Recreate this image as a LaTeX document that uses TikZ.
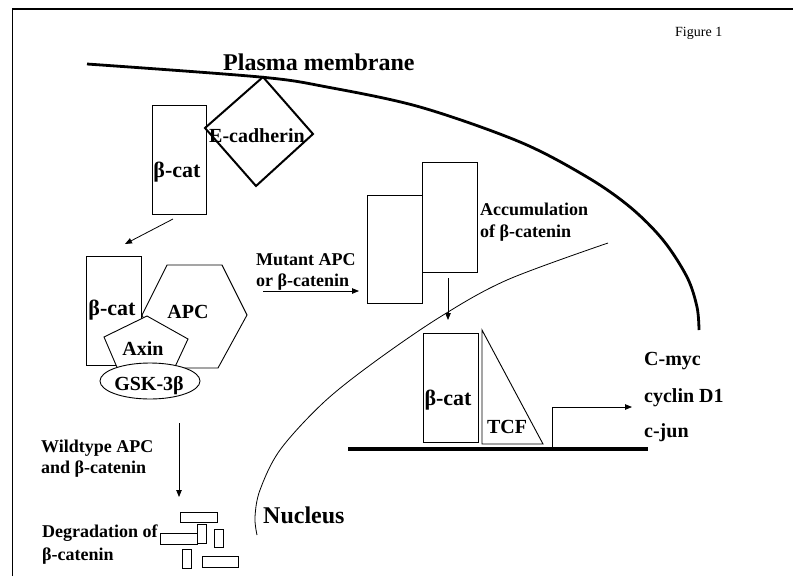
\documentclass[tikz,border=0pt]{standalone}
\usepackage{fontspec}
\setmainfont{Liberation Serif}
\usetikzlibrary{arrows.meta,shapes.geometric}
\begin{document}
\begin{tikzpicture}[x=1pt,y=-1pt,
  lab/.style={font=\bfseries\fontsize{#1}{#1}\selectfont, inner sep=0pt},
  lab/.default=20,
  rbox/.style={draw, line width=0.9pt, fill=white, inner sep=0pt},
  thinline/.style={line width=0.9pt},
  arr/.style={line width=0.8pt, -{Triangle[length=7pt,width=5.5pt]}},
  frag/.style={draw, line width=0.8pt, fill=white}
]
\useasboundingbox (0,0) rectangle (793,576);
% frame
\draw[line width=1.5pt] (12.5,576) -- (12.5,9) -- (793,9);
\node[font=\fontsize{14}{14}\selectfont, inner sep=0pt, anchor=base west] (fig) at (675,36.5) {Figure 1};

% plasma membrane
\draw[line width=2.8pt] plot[smooth, tension=0.55] coordinates {(87,64) (260,77) (327,87) (420,107) (520,142) (587,177) (630,207) (663,240) (687,277) (697,307) (699,330)};
\node[lab=24, anchor=base west] (pm) at (223,70) {Plasma membrane};

% nucleus
\draw[line width=0.8pt] plot[smooth, tension=0.55] coordinates {(608,243) (507,280) (440,317) (373,363) (323,403) (280,450) (260,490) (255,517) (257,535)};
\node[lab=24, anchor=base west] (nuc) at (263,523) {Nucleus};

% beta-cat at membrane + E-cadherin
\node[rbox, minimum width=54pt, minimum height=109pt] (cat1) at (179,159.5) {};
\node[lab=22, anchor=base] (cat1t) at (177,177) {β-cat};
\draw[line width=2pt, fill=white] (263,77) -- (313,134) -- (256,186) -- (205,128) -- cycle;
\node[lab=20, anchor=base] (ecad) at (257,142) {E-cadherin};

% arrow to complex
\coordinate (a1s) at (173,219);
\coordinate (a1e) at (125,244);
\draw[arr] (a1s) -- (a1e);

% destruction complex
\node[rbox, minimum width=55pt, minimum height=109pt] (cat2) at (113.5,310.5) {};
\draw[thinline, fill=white] (167,265) -- (222,265) -- (247,315) -- (218,368) -- (167,368) -- (142,315) -- cycle;
\draw[thinline, fill=white] (147,316) -- (188,339) -- (174,369) -- (119,372) -- (104,337) -- cycle;
\node[draw, thinline, fill=white, ellipse, minimum width=100pt, minimum height=36pt, inner sep=0pt] (gsk) at (150,381) {};
\node[lab=22, anchor=base] (cat2t) at (112,315) {β-cat};
\node[lab=20, anchor=base] (apc) at (188,318) {APC};
\node[lab=20, anchor=base] (axin) at (143,355) {Axin};
\node[lab=20, anchor=base] (gskt) at (149,390) {GSK-3β};

% wildtype path
\node[lab=18, anchor=base west] (wt1) at (41,452) {Wildtype APC};
\node[lab=18, anchor=base west] (wt2) at (41,473) {and β-catenin};
\coordinate (a2s) at (179,423);
\coordinate (a2e) at (179,497);
\draw[arr] (a2s) -- (a2e);
\node[lab=18, anchor=base west] (dg1) at (42,537) {Degradation of};
\node[lab=18, anchor=base west] (dg2) at (42,560) {β-catenin};
\draw[frag] (180,512) rectangle (217,522);
\draw[frag] (197,524) rectangle (206,543);
\draw[frag] (160,533) rectangle (197,544);
\draw[frag] (214,529) rectangle (223,547);
\draw[frag] (182,549) rectangle (191,568);
\draw[frag] (202,556) rectangle (238,567);

% mutant path
\node[lab=18, anchor=base west] (mu1) at (256,265) {Mutant APC};
\node[lab=18, anchor=base west] (mu2) at (256,286) {or β-catenin};
\coordinate (a3s) at (263,291);
\coordinate (a3e) at (359,291);
\draw[arr] (a3s) -- (a3e);
\node[rbox, minimum width=55pt, minimum height=108pt] (acc1) at (394.5,249) {};
\node[rbox, minimum width=55pt, minimum height=110pt] (acc2) at (449.5,217) {};
\node[lab=18, anchor=base west] (ac1) at (480,215) {Accumulation};
\node[lab=18, anchor=base west] (ac2) at (480,237) {of β-catenin};
\coordinate (a4s) at (448,278);
\coordinate (a4e) at (448,320);
\draw[arr] (a4s) -- (a4e);

% nucleus contents
\draw[line width=4pt] (348,449) -- (648,449);
\node[rbox, minimum width=55pt, minimum height=109pt] (cat3) at (450.5,387.5) {};
\node[lab=22, anchor=base] (cat3t) at (448,405) {β-cat};
\draw[thinline] (482,330) -- (482,444) -- (543,444) -- cycle;
\node[lab=20, anchor=base] (tcf) at (507,433) {TCF};
\coordinate (p0) at (552,447);
\coordinate (p1) at (632,407);
\draw[arr] (p0) |- (p1);
\node[lab=20, anchor=base west] (g1) at (644,365) {C-myc};
\node[lab=20, anchor=base west] (g2) at (644,402) {cyclin D1};
\node[lab=20, anchor=base west] (g3) at (644,437) {c-jun};
\end{tikzpicture}
\end{document}
